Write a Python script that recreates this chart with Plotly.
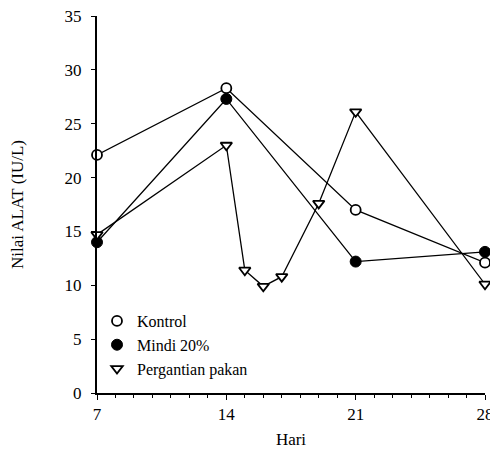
import plotly.graph_objects as go

hari_kontrol = [7, 14, 21, 28]
kontrol = [22.1, 28.3, 17.0, 12.1]
hari_mindi = [7, 14, 21, 28]
mindi = [14.0, 27.3, 12.2, 13.1]
hari_ganti = [7, 14, 15, 16, 17, 19, 21, 28]
ganti = [14.7, 23.0, 11.4, 9.9, 10.8, 17.6, 26.1, 10.1]

x_ticks = [7, 14, 21, 28]
y_ticks = [0, 5, 10, 15, 20, 25, 30, 35]

font = "Liberation Serif"
line = dict(color="black", width=1.3)

series = [
    ("Kontrol", hari_kontrol, kontrol,
     dict(symbol="circle", size=10, color="white", line=dict(color="black", width=1.8))),
    ("Mindi 20%", hari_mindi, mindi,
     dict(symbol="circle", size=11, color="black", line=dict(color="black", width=1))),
    ("Pergantian pakan", hari_ganti, ganti,
     dict(symbol="triangle-down", size=10, color="white", line=dict(color="black", width=1.8))),
]

fig = go.Figure()
for name, xs, ys, mk in series:
    fig.add_trace(go.Scatter(x=xs, y=ys, name=name, mode="lines+markers",
                             line=line, cliponaxis=False, marker=mk, showlegend=False))
for name, xs, ys, mk in series:
    fig.add_trace(go.Scatter(x=[None], y=[None], name=name, mode="markers",
                             marker=mk, showlegend=True))

# page body has an 8px margin, so the figure is sized and placed to compensate
fig.update_layout(
    width=490, height=443,
    margin=dict(l=89, r=13, t=8, b=58, autoexpand=False),
    paper_bgcolor="white", plot_bgcolor="white",
    font=dict(family=font, size=17, color="black"),
    showlegend=True,
    legend=dict(x=0.0, y=0.236, xanchor="left", yanchor="top",
                bgcolor="rgba(0,0,0,0)", font=dict(size=16, family=font),
                itemwidth=30, tracegroupgap=0),
    xaxis=dict(range=[7, 28], tickvals=x_ticks, ticktext=[str(v) for v in x_ticks],
               automargin=False, ticklabeloverflow="allow",
               showline=True, linecolor="black", linewidth=2, showgrid=False,
               zeroline=False, ticks="outside", ticklen=5, tickcolor="black",
               tickfont=dict(size=17),
               minor=dict(dtick=1, tick0=7, ticks="outside", ticklen=3, tickcolor="black", showgrid=False),
               title=dict(text="Hari", font=dict(size=17, family=font), standoff=10)),
    yaxis=dict(range=[0, 35], tickvals=y_ticks, automargin=False, ticklabeloverflow="allow",
               showline=True, linecolor="black", linewidth=2, showgrid=False,
               zeroline=False, ticks="outside", ticklen=4, tickcolor="black",
               ticklabelstandoff=6,
               tickfont=dict(size=17),
               title=dict(text="Nilai ALAT (IU/L)", font=dict(size=17, family=font), standoff=46)),
)

fig.write_html("out.html")
